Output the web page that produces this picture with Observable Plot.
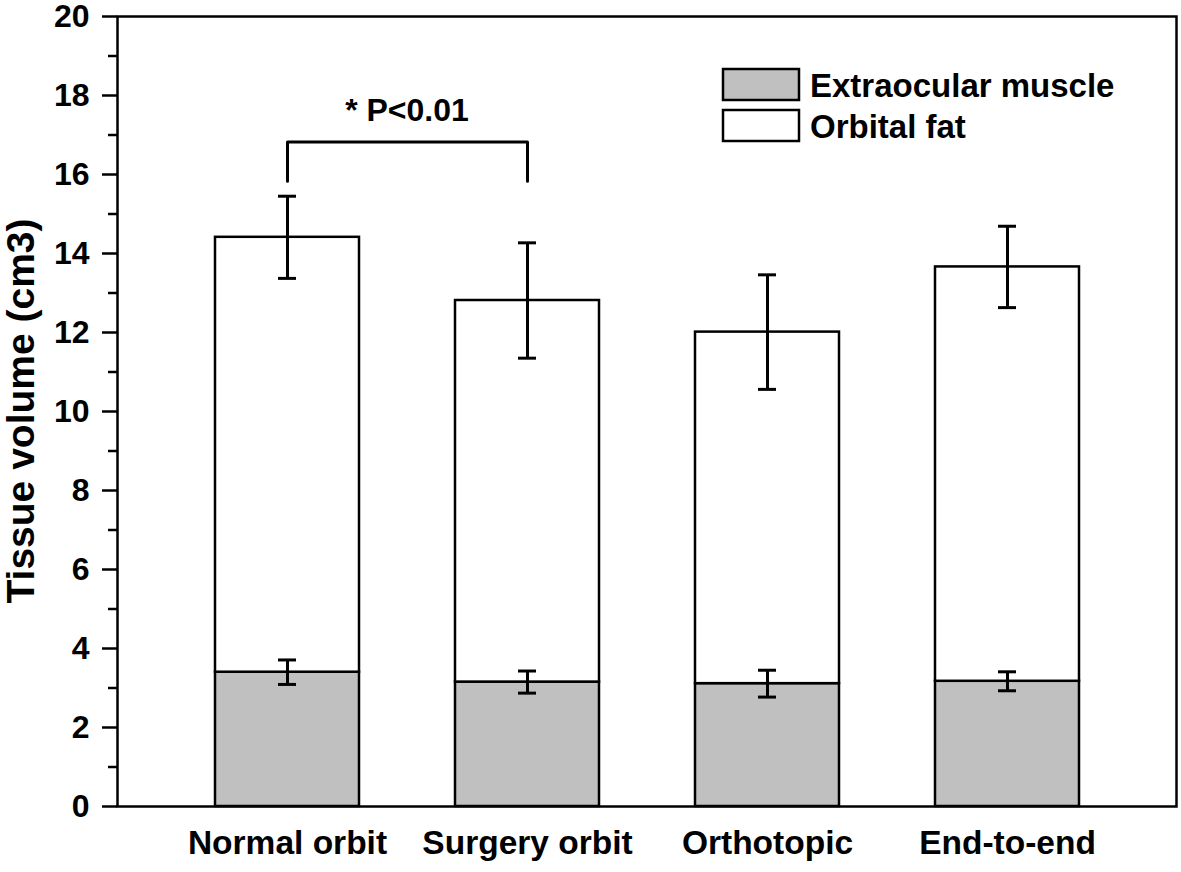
<!DOCTYPE html>
<html><head><meta charset="utf-8">
<script src="https://cdn.jsdelivr.net/npm/d3@7"></script>
<script src="https://cdn.jsdelivr.net/npm/@observablehq/plot@0.6"></script>
<style>
body{margin:0;background:#fff}
#chart{position:relative;width:1181px;height:872px}
</style>
</head><body><div id="chart"></div>
<script>
// ---- data ----
const categories = ["Normal orbit", "Surgery orbit", "Orthotopic", "End-to-end"];
const series = ["Extraocular muscle", "Orbital fat"];
const muscle = [3.40, 3.15, 3.11, 3.17];
const muscleErr = [0.31, 0.28, 0.34, 0.24];
const fat = [11.01, 9.66, 8.90, 10.49];
const totalErr = [1.04, 1.46, 1.45, 1.03];
const yTicks = [0, 2, 4, 6, 8, 10, 12, 14, 16, 18, 20];
const yMinor = [1, 3, 5, 7, 9, 11, 13, 15, 17, 19];
const yLabel = "Tissue volume (cm3)";
const sigPair = ["Normal orbit", "Surgery orbit"];
const sigLevels = [15.83, 16.82];   // bracket leg bottom, bracket top
const sigText = "* P<0.01";
const sigTextY = 17.35;

const FONT = '"Liberation Sans", Arial, Helvetica, sans-serif';
const colors = {"Extraocular muscle": "#c0c0c0", "Orbital fat": "#ffffff"};

const rows = categories.map((c, i) => ({
  cat: c, muscle: muscle[i], muscleErr: muscleErr[i],
  total: muscle[i] + fat[i], totalErr: totalErr[i]
}));
const bracket = [
  {x: sigPair[0], y: sigLevels[0]}, {x: sigPair[0], y: sigLevels[1]},
  {x: sigPair[1], y: sigLevels[1]}, {x: sigPair[1], y: sigLevels[0]}
];

const capInset = 63;
const plot = Plot.plot({
  width: 1181, height: 872,
  marginLeft: 117, marginRight: 5, marginTop: 16, marginBottom: 66,
  style: {fontFamily: FONT, fontWeight: "bold", color: "black", background: "white", overflow: "visible"},
  x: {domain: categories, paddingInner: 0.4, paddingOuter: 0.4, axis: null},
  y: {domain: [0, 20], axis: null},
  marks: [
    Plot.barY(rows, {x: "cat", y1: 0, y2: "muscle", fill: colors[series[0]], stroke: "black", strokeWidth: 2.5}),
    Plot.barY(rows, {x: "cat", y1: "muscle", y2: "total", fill: colors[series[1]], stroke: "black", strokeWidth: 2.5}),
    Plot.ruleX(rows, {x: "cat", y1: d => d.muscle - d.muscleErr, y2: d => d.muscle + d.muscleErr, stroke: "black", strokeWidth: 3}),
    Plot.tickY(rows, {x: "cat", y: d => d.muscle - d.muscleErr, insetLeft: capInset, insetRight: capInset, stroke: "black", strokeWidth: 3}),
    Plot.tickY(rows, {x: "cat", y: d => d.muscle + d.muscleErr, insetLeft: capInset, insetRight: capInset, stroke: "black", strokeWidth: 3}),
    Plot.ruleX(rows, {x: "cat", y1: d => d.total - d.totalErr, y2: d => d.total + d.totalErr, stroke: "black", strokeWidth: 3}),
    Plot.tickY(rows, {x: "cat", y: d => d.total - d.totalErr, insetLeft: capInset, insetRight: capInset, stroke: "black", strokeWidth: 3}),
    Plot.tickY(rows, {x: "cat", y: d => d.total + d.totalErr, insetLeft: capInset, insetRight: capInset, stroke: "black", strokeWidth: 3}),
    Plot.line(bracket, {x: "x", y: "y", stroke: "black", strokeWidth: 3, curve: "linear"}),
    Plot.axisY({ticks: yTicks, tickSize: 15, tickPadding: 13, fontSize: 32, label: null, strokeWidth: 2.5}),
    Plot.axisY({ticks: yMinor, tickSize: 9, tickFormat: () => "", label: null, strokeWidth: 2.5}),
    Plot.axisX({tickSize: 0, tickPadding: 24, fontSize: 33.5, label: null}),
    Plot.frame({stroke: "black", strokeWidth: 2.5})
  ]
});
document.getElementById("chart").appendChild(plot);

// annotations via the plot's own scales
const svg = d3.select(plot);
const xs = plot.scale("x"), ys = plot.scale("y");
const cx = c => xs.apply(c) + xs.bandwidth / 2;
svg.append("text")
  .attr("x", (cx(sigPair[0]) + cx(sigPair[1])) / 2)
  .attr("y", ys.apply(sigTextY))
  .attr("text-anchor", "middle")
  .attr("font-family", FONT).attr("font-weight", "bold").attr("font-size", 32)
  .attr("fill", "black")
  .text(sigText);

// y-axis title
svg.append("text")
  .attr("transform", `translate(20,${(ys.apply(0) + ys.apply(20)) / 2}) rotate(-90)`)
  .attr("text-anchor", "middle").attr("dominant-baseline", "central")
  .attr("font-family", FONT).attr("font-weight", "bold").attr("font-size", 39)
  .attr("fill", "black")
  .text(yLabel);

// legend
const lg = svg.append("g");
series.forEach((s, i) => {
  const y0 = 69 + i * 41;
  lg.append("rect").attr("x", 723).attr("y", y0).attr("width", 76).attr("height", 31)
    .attr("fill", colors[s]).attr("stroke", "black").attr("stroke-width", 2.5);
  lg.append("text").attr("x", 810).attr("y", y0 + 16)
    .attr("text-anchor", "start")
    .attr("dominant-baseline", "central")
    .attr("font-family", FONT).attr("font-weight", "bold").attr("font-size", 33)
    .attr("fill", "black").text(s);
});
</script>
</body></html>
